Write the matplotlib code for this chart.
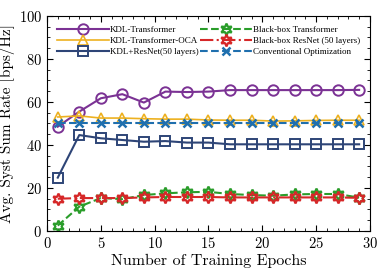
import matplotlib
matplotlib.use("Agg")
import matplotlib.pyplot as plt
from matplotlib.ticker import MultipleLocator

plt.rcParams["font.family"] = ["cmr10", "DejaVu Serif"]
plt.rcParams["axes.formatter.use_mathtext"] = True
plt.rcParams["mathtext.fontset"] = "cm"

epochs = [1, 3, 5, 7, 9, 11, 13, 15, 17, 19, 21, 23, 25, 27, 29]
kdl_transformer = [48.5, 55.5, 61.7, 63.6, 59.7, 64.8, 64.6, 64.8, 65.5, 65.5, 65.5, 65.5, 65.5, 65.5, 65.6]
kdl_oca = [53.0, 53.5, 52.5, 52.5, 52.2, 52.0, 52.0, 51.6, 51.5, 51.5, 51.1, 51.2, 51.4, 51.5, 51.5]
kdl_resnet = [24.8, 44.6, 43.1, 42.3, 41.5, 41.8, 41.1, 41.1, 40.3, 40.3, 40.3, 40.3, 40.3, 40.3, 40.3]
bb_transformer = [2.5, 11.3, 15.3, 14.8, 16.7, 17.5, 18.0, 18.2, 17.2, 16.7, 16.4, 17.0, 17.2, 17.2, 15.5]
bb_resnet = [15.0, 15.3, 15.3, 15.3, 15.6, 15.8, 15.8, 15.8, 15.6, 15.6, 15.6, 15.6, 15.6, 15.6, 15.4]
conv_opt = [50.0] * 15

hexagram = (6, 1, 0)

fig = plt.figure(figsize=(3.79, 2.74), dpi=100)
ax = fig.add_axes([0.124, 0.157, 0.852, 0.785])

ax.plot(epochs, kdl_transformer, "-o", color="#7B3294", lw=1.5, ms=7.5,
        mfc="none", mew=1.4, label="KDL-Transformer")
ax.plot(epochs, kdl_oca, "-^", color="#EDB120", lw=1.2, ms=7.5,
        mfc="none", mew=1.2, label="KDL-Transformer-OCA")
ax.plot(epochs, kdl_resnet, "-s", color="#2E4577", lw=1.5, ms=6.5,
        mfc="none", mew=1.4, label="KDL+ResNet(50 layers)")
ax.plot(epochs, bb_transformer, "--", marker=hexagram, color="#2A9D2A", lw=1.5,
        ms=8.5, mfc="none", mew=1.6, label="Black-box Transformer")
ax.plot(epochs, bb_resnet, "-.", marker=hexagram, color="#D62728", lw=1.5,
        ms=8.5, mfc="none", mew=1.6, label="Black-box ResNet (50 layers)")
ax.plot(epochs, conv_opt, "--x", color="#1F6FAE", lw=1.5, ms=6,
        mew=1.8, label="Conventional Optimization")

ax.set_xlim(0, 30)
ax.set_ylim(0, 100)
ax.xaxis.set_major_locator(MultipleLocator(5))
ax.xaxis.set_minor_locator(MultipleLocator(1))
ax.yaxis.set_major_locator(MultipleLocator(20))
ax.yaxis.set_minor_locator(MultipleLocator(5))
ax.tick_params(which="both", direction="in", top=True, right=True, labelsize=10.5)
ax.tick_params(which="major", length=4)
ax.tick_params(which="minor", length=2)
ax.set_xlabel("Number of Training Epochs", fontsize=11.5, labelpad=2)
ax.set_ylabel("Avg. Syst Sum Rate [bps/Hz]", fontsize=11, labelpad=3)

ax.legend(ncol=2, loc="upper left", bbox_to_anchor=(0.0, 1.0), frameon=False,
          prop={"family": "Liberation Serif", "size": 6.5},
          handlelength=5.8, handletextpad=0.1, labelspacing=0.3,
          columnspacing=0.1, borderaxespad=0.3, borderpad=0.8)

fig.savefig("out.png", dpi=100)
